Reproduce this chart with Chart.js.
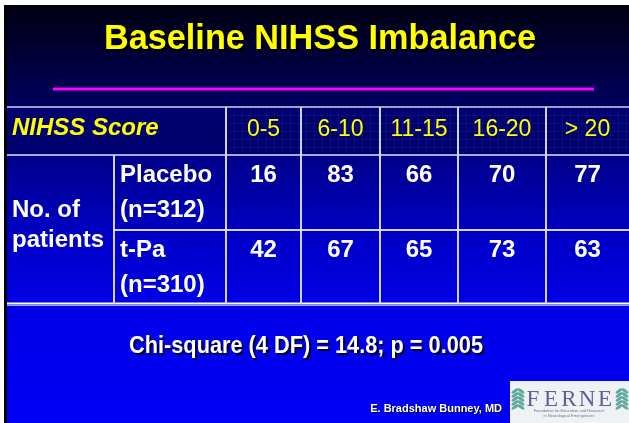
<!DOCTYPE html>
<html>
<head>
<meta charset="utf-8">
<script src="https://cdn.jsdelivr.net/npm/chart.js@4.4.1/dist/chart.umd.min.js"></script>
<style>
  body { margin: 0; background: #fff; }
  #slide { position: absolute; left: 0; top: 0; }
</style>
</head>
<body>
<canvas id="slide" width="629" height="423"></canvas>
<script>
const title = 'Baseline NIHSS Imbalance';
const headerLabel = 'NIHSS Score';
const scoreBands = ['0-5', '6-10', '11-15', '16-20', '> 20'];
const groups = ['Placebo', 't-Pa'];
const groupSizes = ['(n=312)', '(n=310)'];
const rowLabel = ['No. of', 'patients'];
const placebo = [16, 83, 66, 70, 77];
const tpa = [42, 67, 65, 73, 63];
const footnote = 'Chi-square (4 DF) = 14.8; p = 0.005';
const author = 'E. Bradshaw Bunney, MD';

// table layout (offsets from the table's top-left corner)
const colEdges = [0, 107, 219, 294, 373, 451, 539, 622];
const rowEdges = [0, 48, 123, 197];
const FONT = '"Liberation Sans", Arial, sans-serif';

const colMid = i => (colEdges[i + 2] + colEdges[i + 3]) / 2;

const ctx = document.getElementById('slide').getContext('2d');

const slideBackground = {
    id: 'slideBackground',
    beforeDraw(chart) {
        const c = chart.ctx;
        c.save();
        c.fillStyle = '#000';
        c.fillRect(4, 5, 625, 418);
        const g = c.createLinearGradient(0, 5, 0, 423);
        g.addColorStop(0, '#000010');
        g.addColorStop(0.24, '#00005e');
        g.addColorStop(0.4, '#000096');
        g.addColorStop(0.56, '#0000c8');
        g.addColorStop(0.72, '#0000e6');
        g.addColorStop(1, '#0000f6');
        c.fillStyle = g;
        c.fillRect(7, 5, 622, 418);

        // title
        c.font = 'bold 35px ' + FONT;
        c.textAlign = 'center';
        c.textBaseline = 'alphabetic';
        c.fillStyle = '#000';
        c.fillText(title, 322, 51, 432);
        c.fillStyle = '#ffff00';
        c.fillText(title, 320, 49, 432);

        c.strokeStyle = '#ff00ff';
        c.lineWidth = 3;
        c.beginPath();
        c.moveTo(53, 89);
        c.lineTo(594, 89);
        c.stroke();
        c.restore();
    }
};

const tablePlugin = {
    id: 'tablePlugin',
    beforeDatasetsDraw(chart) {
        const c = chart.ctx;
        const x = chart.scales.x, y = chart.scales.y;
        const px = v => x.getPixelForValue(v);
        const py = v => y.getPixelForValue(v);
        c.save();

        // header row fill
        c.fillStyle = '#00006e';
        c.fillRect(px(0), py(rowEdges[0]), px(colEdges[7]) - px(0), py(rowEdges[1]) - py(rowEdges[0]));
        c.strokeStyle = 'rgba(60,60,170,0.18)';
        c.lineWidth = 1;
        for (let gx = px(colEdges[2]); gx < px(colEdges[7]); gx += 8) {
            c.beginPath(); c.moveTo(gx + 0.5, py(0)); c.lineTo(gx + 0.5, py(rowEdges[1])); c.stroke();
        }
        for (let gy = py(0) + 8; gy < py(rowEdges[1]); gy += 8) {
            c.beginPath(); c.moveTo(px(colEdges[2]), gy + 0.5); c.lineTo(px(colEdges[7]), gy + 0.5); c.stroke();
        }

        const line = (x1, y1, x2, y2, col, w) => {
            c.strokeStyle = col;
            c.lineWidth = w;
            c.beginPath();
            c.moveTo(x1, y1);
            c.lineTo(x2, y2);
            c.stroke();
        };
        const light = 'rgba(220,220,255,0.95)';
        // horizontal rules
        line(px(0), py(rowEdges[0]), px(colEdges[7]), py(rowEdges[0]), '#9c9cdc', 2);
        line(px(0), py(rowEdges[1]), px(colEdges[7]), py(rowEdges[1]), '#a8a8e8', 2);
        line(px(colEdges[1]), py(rowEdges[2]), px(colEdges[7]), py(rowEdges[2]), light, 2);
        line(px(0), py(rowEdges[3]) - 0.5, px(colEdges[7]), py(rowEdges[3]) - 0.5, '#ffffff', 2);
        line(px(0), py(rowEdges[3]) + 1.5, px(colEdges[7]), py(rowEdges[3]) + 1.5, '#9ea8ff', 1);
        // vertical rules
        line(px(colEdges[1]), py(rowEdges[1]), px(colEdges[1]), py(rowEdges[3]), light, 2);
        for (let i = 2; i < 7; i++) {
            line(px(colEdges[i]), py(rowEdges[0]), px(colEdges[i]), py(rowEdges[3]), light, 2);
        }

        // header row
        c.textBaseline = 'alphabetic';
        c.fillStyle = '#ffff00';
        c.textAlign = 'left';
        c.font = 'italic bold 24px ' + FONT;
        c.fillText(headerLabel, px(0) + 5, py(rowEdges[0]) + 28);
        c.textAlign = 'center';
        c.font = '23px ' + FONT;
        scoreBands.forEach((b, i) => c.fillText(b, px(colMid(i)), py(rowEdges[0]) + 29));

        // row labels
        c.fillStyle = '#ffffff';
        c.textAlign = 'left';
        c.font = 'bold 24px ' + FONT;
        c.fillText(rowLabel[0], px(0) + 5, py(rowEdges[1]) + 62);
        c.fillText(rowLabel[1], px(0) + 5, py(rowEdges[1]) + 92);
        groups.forEach((g, r) => {
            const top = py(rowEdges[r + 1]);
            c.fillText(g, px(colEdges[1]) + 6, top + 27);
            c.fillText(groupSizes[r], px(colEdges[1]) + 6, top + 62);
        });
        c.restore();
    },
    afterDatasetsDraw(chart) {
        const c = chart.ctx;
        c.save();
        c.fillStyle = '#ffffff';
        c.textAlign = 'center';
        c.textBaseline = 'alphabetic';
        c.font = 'bold 24px ' + FONT;
        chart.data.datasets.forEach((ds, d) => {
            chart.getDatasetMeta(d).data.forEach((pt, i) => {
                c.fillText(String(ds.data[i].v), pt.x, pt.y + 27);
            });
        });
        c.restore();
    }
};

const footer = {
    id: 'footer',
    afterDraw(chart) {
        const c = chart.ctx;
        c.save();
        c.textBaseline = 'alphabetic';
        c.textAlign = 'center';
        c.font = 'bold 24px ' + FONT;
        c.fillStyle = '#000030';
        c.fillText(footnote, 308, 355, 354);
        c.fillStyle = '#ffffff';
        c.fillText(footnote, 306, 353, 354);

        c.textAlign = 'right';
        c.font = 'bold 11px ' + FONT;
        c.fillStyle = '#000040';
        c.fillText(author, 503, 413, 132);
        c.fillStyle = '#ffffff';
        c.fillText(author, 502, 412, 132);

        // FERNE logo
        c.fillStyle = '#eef2f2';
        c.fillRect(510, 381, 119, 42);
        c.fillStyle = '#5fa9a0';
        [[518, 400], [622, 400]].forEach(([lx, ly]) => {
            for (let k = 0; k < 5; k++) {
                c.beginPath();
                c.ellipse(lx - 3, ly - 9 + k * 4, 4, 1.6, -0.6, 0, Math.PI * 2);
                c.ellipse(lx + 3, ly - 9 + k * 4, 4, 1.6, 0.6, 0, Math.PI * 2);
                c.fill();
            }
        });
        c.fillStyle = '#6b5a9c';
        c.textAlign = 'center';
        c.font = '23px "Liberation Serif", "DejaVu Serif", serif';
        ['F', 'E', 'R', 'N', 'E'].forEach((ch, k) => c.fillText(ch, 533 + k * 18, 406));
        c.font = '4px ' + FONT;
        c.fillStyle = '#7a7090';
        c.fillText('Foundation for Education and Research', 569, 412);
        c.fillText('in Neurological Emergencies', 569, 417);
        c.restore();
    }
};

const makePoints = (vals, r) => vals.map((v, i) => ({ x: colMid(i), y: rowEdges[r + 1], v }));

new Chart(ctx, {
    type: 'scatter',
    data: {
        datasets: [
            { label: groups[0], data: makePoints(placebo, 0), pointRadius: 0 },
            { label: groups[1], data: makePoints(tpa, 1), pointRadius: 0 }
        ]
    },
    options: {
        responsive: false,
        animation: false,
        devicePixelRatio: 1,
        layout: { padding: { left: 7, top: 107, right: 0, bottom: 119 } },
        scales: {
            x: { type: 'linear', min: 0, max: colEdges[7], display: false },
            y: { type: 'linear', min: 0, max: rowEdges[3], reverse: true, display: false }
        },
        plugins: {
            legend: { display: false },
            tooltip: { enabled: false }
        }
    },
    plugins: [slideBackground, tablePlugin, footer]
});
</script>
</body>
</html>
